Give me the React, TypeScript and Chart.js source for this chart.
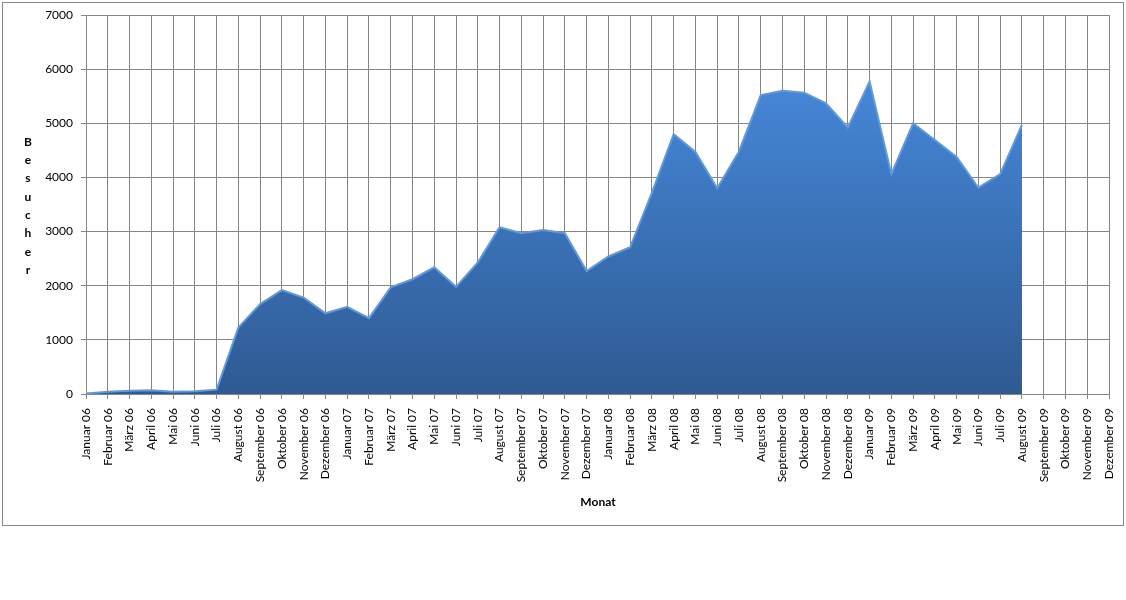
import React, { useEffect, useRef } from "react";
import { Chart, registerables } from "chart.js";

Chart.register(...registerables);

const months = ["Januar", "Februar", "März", "April", "Mai", "Juni", "Juli", "August", "September", "Oktober", "November", "Dezember"];
const years = ["06", "07", "08", "09"];
const categories: string[] = [];
years.forEach((y) => months.forEach((m) => categories.push(`${m} ${y}`)));

const visitors2006 = [10, 40, 60, 70, 40, 50, 80, 1230, 1660, 1920, 1780, 1490];
const visitors2007 = [1610, 1400, 1970, 2120, 2340, 1980, 2430, 3080, 2970, 3030, 2970, 2270];
const visitors2008 = [2540, 2710, 3720, 4800, 4470, 3800, 4480, 5520, 5600, 5565, 5370, 4920];
const visitors2009: (number | null)[] = [5770, 4060, 5000, 4690, 4380, 3810, 4060, 4970, null, null, null, null];
const visitors = [...visitors2006, ...visitors2007, ...visitors2008, ...visitors2009];

const yTicks = [0, 1000, 2000, 3000, 4000, 5000, 6000, 7000];
const yTitle = "Besucher";
const xTitle = "Monat";

const FONT = "Lato, 'Open Sans', sans-serif";

const decor = {
  id: "decor",
  afterDraw(chart: any) {
    const ctx = chart.ctx;
    ctx.save();
    ctx.strokeStyle = "#868686";
    ctx.lineWidth = 1;
    ctx.strokeRect(2.5, 2.5, 1121, 523);
    ctx.fillStyle = "#000";
    ctx.font = `bold 12px ${FONT}`;
    ctx.textAlign = "center";
    ctx.textBaseline = "middle";
    const letters = yTitle.split("");
    letters.forEach((ch, i) => {
      ctx.fillText(ch, 28, 142 + i * 18.3);
    });
    ctx.fillText(xTitle, 598, 502);
    ctx.restore();
  },
};

export default function App() {
  const ref = useRef<HTMLCanvasElement>(null);
  useEffect(() => {
    if (!ref.current) return;
    const chart = new Chart(ref.current, {
      type: "line",
      data: {
        labels: categories,
        datasets: [
          {
            data: visitors,
            fill: "origin",
            borderColor: "#5a9be4",
            borderWidth: 2,
            pointRadius: 0,
            tension: 0,
            spanGaps: false,
            backgroundColor: (c: any) => {
              const { chart } = c;
              const area = chart.chartArea;
              if (!area) return "#3c74bb";
              const g = chart.ctx.createLinearGradient(0, area.top + 60, 0, area.bottom);
              g.addColorStop(0, "#4688da");
              g.addColorStop(1, "#2f5a92");
              return g;
            },
          },
        ],
      },
      options: {
        responsive: false,
        animation: false,
        layout: { padding: { top: 15, right: 17, left: 0, bottom: 0 } },
        plugins: { legend: { display: false }, tooltip: { enabled: false } },
        scales: {
          x: {
            offset: false,
            grid: { color: "#868686", lineWidth: 1, tickLength: 5, drawTicks: true },
            border: { color: "#868686" },
            ticks: {
              autoSkip: false,
              maxRotation: 90,
              minRotation: 90,
              padding: 9,
              color: "#000",
              font: { family: FONT, size: 12 },
            },
            afterFit: (s: any) => {
              s.height = 206;
              s.paddingLeft = 0;
              s.paddingRight = 0;
            },
          },
          y: {
            min: 0,
            max: 7000,
            afterBuildTicks: (s: any) => {
              s.ticks = yTicks.map((v) => ({ value: v }));
            },
            grid: { color: "#868686", lineWidth: 1, tickLength: 5 },
            border: { color: "#868686" },
            ticks: {
              padding: 8,
              color: "#000",
              font: { family: FONT, size: 12 },
              callback: (v: any) => String(v),
            },
            afterFit: (s: any) => {
              s.width = 86;
              s.paddingTop = 0;
              s.paddingBottom = 0;
            },
          },
        },
      },
      plugins: [decor],
    });
    return () => chart.destroy();
  }, []);
  return (
    <div style={{ position: "absolute", left: 0, top: 0, width: 1126, height: 600, background: "#fff" }}>
      <canvas ref={ref} width={1126} height={600} />
    </div>
  );
}
